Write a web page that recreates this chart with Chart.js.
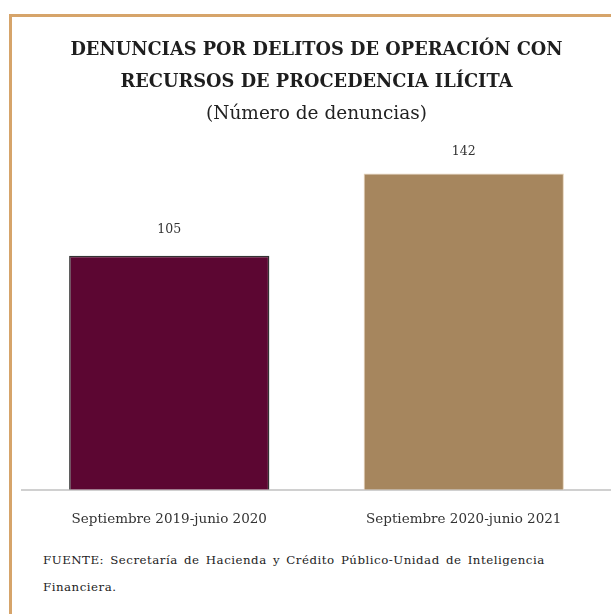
<!DOCTYPE html>
<html>
<head>
<meta charset="utf-8">
<script src="https://cdn.jsdelivr.net/npm/chart.js@4"></script>
<style>
  html,body{margin:0;padding:0;background:#fff;}
  #wrap{position:relative;width:611px;height:614px;overflow:hidden;}
  #frameTop{position:absolute;left:9px;top:14px;width:602px;height:3px;background:#d6a46a;}
  #frameLeft{position:absolute;left:9px;top:14px;width:3px;height:600px;background:#d6a46a;}
  #c{position:absolute;left:0;top:0;}
  #fuente{position:absolute;left:43px;top:547px;width:530px;font-family:"DejaVu Serif",serif;font-size:11.8px;letter-spacing:0.5px;word-spacing:2px;line-height:27px;color:#222;}
</style>
</head>
<body>
<div id="wrap">
  <canvas id="c" width="611" height="542"></canvas>
  <div id="frameTop"></div>
  <div id="frameLeft"></div>
  <div id="fuente">FUENTE: Secretaría de Hacienda y Crédito Público-Unidad de Inteligencia Financiera.</div>
</div>
<script>
(function(){
  const periodos = ['Septiembre 2019-junio 2020','Septiembre 2020-junio 2021'];
  const denuncias = [105, 142];
  const colores = ['#5c0632','#a6865e'];
  const bordes = ['#333333','#e6d2b8'];
  const titulo = ['DENUNCIAS POR DELITOS DE OPERACIÓN CON','RECURSOS DE PROCEDENCIA ILÍCITA'];
  const subtitulo = '(Número de denuncias)';
  const fam = '"DejaVu Serif", serif';

  // etiquetas de valor encima de cada barra
  const valores = {
    id:'valores',
    afterDatasetsDraw(chart){
      const ctx = chart.ctx;
      const meta = chart.getDatasetMeta(0);
      ctx.save();
      ctx.font = '12.5px ' + fam;
      ctx.fillStyle = '#333';
      ctx.textAlign = 'center';
      ctx.textBaseline = 'middle';
      meta.data.forEach((bar,i)=>{
        ctx.fillText(String(denuncias[i]), bar.x, bar.y - (i ? 22 : 26));
      });
      ctx.restore();
    }
  };

  new Chart(document.getElementById('c'), {
    type:'bar',
    data:{
      labels: periodos,
      datasets:[{
        data: denuncias,
        backgroundColor: colores,
        borderColor: bordes,
        borderWidth: [1.5, 1],
        barPercentage: 0.68,
        categoryPercentage: 1
      }]
    },
    options:{
      responsive:false,
      animation:false,
      layout:{padding:{left:22, right:0, top:34, bottom:0}},
      plugins:{
        legend:{display:false},
        tooltip:{enabled:false},
        title:{
          display:true,
          text: titulo,
          color:'#1e1e1e',
          font:{family:fam, size:17.8, weight:'bold', lineHeight:1.8},
          padding:{top:0, bottom:0}
        },
        subtitle:{
          display:true,
          text: subtitulo,
          color:'#222',
          font:{family:fam, size:18.5, weight:'normal', lineHeight:1.2},
          padding:{top:5, bottom:8}
        }
      },
      scales:{
        x:{
          grid:{display:false},
          border:{display:true, color:'#d0d0d0', width:2},
          ticks:{color:'#333', font:{family:fam, size:13.5}, padding:14}
        },
        y:{display:false, min:0, max:160}
      }
    },
    plugins:[valores]
  });
})();
</script>
</body>
</html>
